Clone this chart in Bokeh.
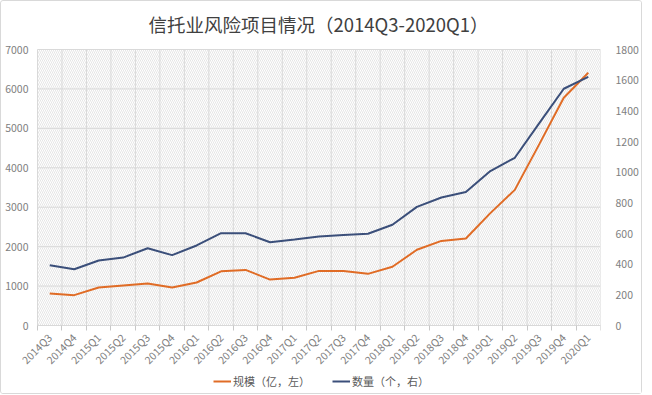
import math
from bokeh.plotting import figure
from bokeh.models import (Range1d, LinearAxis, FixedTicker, BoxAnnotation,
                          Legend, LegendItem)
from bokeh.core.properties import value
from bokeh.embed import file_html
from bokeh.resources import INLINE

quarters = ["2014Q3", "2014Q4", "2015Q1", "2015Q2", "2015Q3", "2015Q4",
            "2016Q1", "2016Q2", "2016Q3", "2016Q4", "2017Q1", "2017Q2",
            "2017Q3", "2017Q4", "2018Q1", "2018Q2", "2018Q3", "2018Q4",
            "2019Q1", "2019Q2", "2019Q3", "2019Q4", "2020Q1"]
scale_values = [810, 770, 965, 1015, 1065, 965, 1090, 1375, 1410, 1165,
                1210, 1385, 1380, 1310, 1490, 1920, 2145, 2205, 2850, 3440,
                4600, 5775, 6410]
count_values = [393, 367, 424, 443, 504, 459, 522, 602, 602, 543, 561, 580,
                591, 598, 657, 774, 835, 870, 1007, 1094, 1320, 1544, 1622]
left_ticks = [0, 1000, 2000, 3000, 4000, 5000, 6000, 7000]
right_ticks = [0, 200, 400, 600, 800, 1000, 1200, 1400, 1600, 1800]
title_text = "信托业风险项目情况（2014Q3-2020Q1）"
scale_label = "规模（亿，左）"
count_label = "数量（个，右）"

ORANGE = "#E06C26"
BLUE = "#3B4F7A"
GRID = "#d9d9d9"
TXT = "#808080"
FONT = "Noto Sans CJK SC"

# layout (pixels): value area 563 x 276; the frame extends around it so the
# left labels, rotated quarter labels and legend are not clipped
DATA_W, DATA_H = 563, 276
EXT_L, EXT_TOP, EXT_BOTTOM = 36, 6, 64
FRAME_W = DATA_W + EXT_L
FRAME_H = DATA_H + EXT_TOP + EXT_BOTTOM

n = len(quarters)
xs = list(range(n))
bounds = [i - 0.5 for i in range(n + 1)]
lmin, lmax = left_ticks[0], left_ticks[-1]
rmin, rmax = right_ticks[0], right_ticks[-1]


def padded(lo, hi):
    span = hi - lo
    return Range1d(lo - span * EXT_BOTTOM / DATA_H, hi + span * EXT_TOP / DATA_H)


p = figure(frame_width=FRAME_W, frame_height=FRAME_H,
           output_backend="svg", toolbar_location=None,
           x_range=Range1d(-0.5 - EXT_L * n / DATA_W, n - 0.5),
           y_range=padded(lmin, lmax), y_axis_location=None,
           min_border_left=0, min_border_right=37, min_border_top=4,
           min_border_bottom=4)
p.extra_y_ranges = {"right": padded(rmin, rmax)}
p.outline_line_color = None
p.background_fill_color = "white"
p.border_fill_color = "white"
p.styles = {"border": "1px solid #d9d9d9", "border-radius": "3px"}

p.title.text = title_text
p.title.align = "left"
p.title.offset = 147
p.title.text_font = FONT
p.title.text_font_size = "18.5px"
p.title.text_font_style = "normal"
p.title.text_color = "#404040"
p.title.standoff = 14

# hatched value area
p.add_layout(BoxAnnotation(left=bounds[0], right=bounds[-1], bottom=lmin, top=lmax,
                           fill_alpha=0, line_color=None,
                           hatch_pattern="\\", hatch_color="#cfcfcf",
                           hatch_alpha=0.55, hatch_scale=4, level="underlay"))

# grid lines limited to the value area
p.xgrid.visible = False
p.ygrid.visible = False
p.segment(x0=bounds, y0=[lmin] * len(bounds), x1=bounds, y1=[lmax] * len(bounds),
          line_color=GRID, line_width=1)
p.segment(x0=[bounds[0]] * len(left_ticks), y0=left_ticks,
          x1=[bounds[-1]] * len(left_ticks), y1=left_ticks,
          line_color=GRID, line_width=1)

# left value labels
p.text(x=[bounds[0]] * len(left_ticks), y=left_ticks,
       text=[str(t) for t in left_ticks], x_offset=-9,
       text_align="right", text_baseline="middle",
       text_font=value(FONT), text_font_size=value("10.5px"), text_color=TXT)

# quarter axis at the zero line
xticker = FixedTicker(ticks=xs, minor_ticks=bounds)
p.xaxis.ticker = xticker
p.xaxis.fixed_location = lmin
p.xaxis.bounds = (bounds[0], bounds[-1])
p.xaxis.major_label_overrides = {i: q for i, q in enumerate(quarters)}
p.xaxis.major_label_orientation = math.pi / 4
p.xaxis.major_tick_line_color = None
p.xaxis.minor_tick_line_color = "#c8c8c8"
p.xaxis.minor_tick_in = 0
p.xaxis.minor_tick_out = 5
p.xaxis.axis_line_color = GRID
p.xaxis.major_label_text_font = FONT
p.xaxis.major_label_text_font_size = "10.5px"
p.xaxis.major_label_text_color = TXT
p.xaxis.major_label_standoff = 4

raxis = LinearAxis(y_range_name="right", ticker=FixedTicker(ticks=right_ticks),
                   axis_line_color=None, major_tick_line_color=None,
                   minor_tick_line_color=None, major_label_text_font=FONT,
                   major_label_text_font_size="10.5px", major_label_text_color=TXT,
                   major_label_standoff=9)
p.add_layout(raxis, "right")

r1 = p.line(xs, scale_values, line_color=ORANGE, line_width=2)
r2 = p.line(xs, count_values, y_range_name="right", line_color=BLUE, line_width=2)

legend = Legend(items=[LegendItem(label=scale_label, renderers=[r1]),
                       LegendItem(label=count_label, renderers=[r2])],
                orientation="horizontal", location=(212, 0),
                border_line_color=None, background_fill_alpha=0,
                padding=0, margin=0, spacing=22, glyph_width=18,
                glyph_height=14, label_height=14,
                label_standoff=2, label_text_font=FONT,
                label_text_font_size="11px", label_text_color="#595959")
p.add_layout(legend)

open("out.html", "w").write(file_html(p, INLINE))
